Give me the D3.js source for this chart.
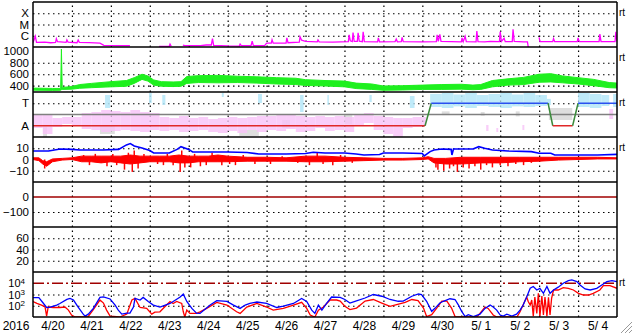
<!DOCTYPE html>
<html>
<head>
<meta charset="utf-8">
<script src="https://cdn.jsdelivr.net/npm/d3@7"></script>
<style>
body { margin: 0; background: #fff; }
svg { display: block; font-family: "Liberation Sans", Arial, sans-serif; }
text { white-space: pre; }
</style>
</head>
<body>
<div id="chart"></div>
<script>
// time axis: days since 2016-04-20 00UT
var dateLabels = ["4/20","4/21","4/22","4/23","4/24","4/25","4/26","4/27","4/28","4/29","4/30","5/ 1","5/ 2","5/ 3","5/ 4"];
var yearLabel = "2016";

// panel tick labels
var xrayTicks = [1e-4, 1e-5, 1e-6], xrayTickLabels = ["X", "M", "C"];
var speedTicks = [1000, 800, 600, 400], speedGrid = [800, 600, 400];
var phiTicks = [315, 135], phiTickLabels = ["T", "A"], phiGrid = [315];
var bTicks = [10, 0, -10], bGrid = [10, -10];
var dstTicks = [0, -100], dstGrid = [-100];
var kpTicks = [60, 40, 20];
var eTicks = [1e4, 1e3, 1e2], eGrid = [1e3, 1e2], eAlert = 1e4;

// x-ray flux [day, W/m2], null = gap
var xray = [[0,2.4e-7],[0.06,9e-7],[0.09,2.6e-7],[0.3,2.7e-7],[0.45,2.4e-7],[0.58,2.6e-7],[0.6,5.5e-7],[0.63,3e-7],
  [0.85,2.6e-7],[0.87,4.2e-7],[0.9,2.7e-7],[1.13,2.4e-7],[1.16,4.2e-7],[1.19,2.6e-7],[1.45,2.4e-7],[1.72,2.2e-7],
  [1.82,1.4e-7],[2.2,1.3e-7],[2.49,1.35e-7],null,
  [3.24,1.15e-7],[3.5,1.15e-7],[3.52,1.8e-7],[3.55,1.15e-7],null,
  [3.85,1.45e-7],[3.9,1.3e-7],[4.3,1.3e-7],[4.45,1.5e-7],[4.58,1.5e-7],[4.61,5.5e-7],[4.64,1.4e-7],[5.0,1.25e-7],
  [5.3,1.2e-7],[5.32,1.8e-7],[5.35,1.3e-7],[5.6,1.3e-7],[5.63,3.3e-7],[5.66,1.3e-7],[5.95,1.3e-7],[6.0,2.2e-7],
  [6.12,2.2e-7],[6.14,4.4e-7],[6.17,2.2e-7],[6.5,2.2e-7],[6.52,6.5e-7],[6.55,2.4e-7],[6.84,2.7e-7],[6.86,8e-7],
  [6.9,4e-7],[7.0,3.1e-7],[7.3,2.9e-7],[7.32,4.2e-7],[7.35,2.9e-7],[7.7,2.7e-7],[7.9,2.9e-7],[8.1,3.0e-7],
  [8.12,1.2e-6],[8.15,3.5e-7],[8.2,3.0e-7],[8.22,1.9e-6],[8.25,3.1e-7],[8.33,3.1e-7],[8.35,1.8e-6],[8.38,3.3e-7],
  [8.46,3.0e-7],[8.48,2.2e-6],[8.51,3.0e-7],[8.85,2.9e-7],[8.87,6.5e-7],[8.9,2.9e-7],[9.3,3.0e-7],[9.33,5e-7],
  [9.36,2.9e-7],[9.46,3.0e-7],[9.48,7e-7],[9.51,3.0e-7],[10.0,2.9e-7],[10.36,3.0e-7],[10.38,1.2e-6],[10.41,3.1e-7],
  [10.45,1.3e-6],[10.48,3.1e-7],[11.0,2.9e-7],[11.02,6.5e-7],[11.05,3.0e-7],[11.1,9e-7],[11.13,3.0e-7],[11.38,2.9e-7],
  [11.4,2.6e-6],[11.43,3.0e-7],[11.6,2.9e-7],[11.75,3.1e-7],[11.98,3.0e-7],[12.0,2.3e-6],[12.03,3.1e-7],[12.1,6e-7],
  [12.13,3.0e-7],[12.31,3.0e-7],[12.33,3.8e-6],[12.36,3.1e-7],[12.6,2.9e-7],[12.7,2.9e-7],[12.72,1.0e-7],null,
  [13.0,7e-7],[13.02,3.0e-7],[13.35,3.0e-7],[13.37,5.5e-7],[13.4,3.0e-7],[13.98,3.0e-7],[14.0,6.5e-7],[14.03,3.0e-7],
  [14.54,3.0e-7],[14.56,1.4e-6],[14.59,3.0e-7],[14.95,3.0e-7],[14.97,2.2e-6],[15.0,3.1e-7]];

// solar wind speed band [day, low, high] km/s
var speed = [[0,322,358],[0.5,318,352],[0.71,320,352],[0.73,330,1040],[0.75,335,370],[1.0,340,385],[1.2,355,420],
  [1.5,365,440],[2.0,380,470],[2.4,390,490],[2.6,440,540],[2.8,510,600],[2.95,480,570],[3.1,410,500],[3.3,390,470],
  [3.6,385,465],[3.8,390,470],[3.95,440,560],[4.25,455,575],[4.75,450,580],[5.25,455,565],[5.75,445,555],
  [6.25,430,540],[6.75,420,530],[7.0,405,505],[7.5,395,490],[8.0,380,480],[8.3,350,445],[8.7,335,430],[9.0,320,395],
  [9.5,325,400],[10.0,335,410],[10.5,335,420],[11.0,340,425],[11.3,330,410],[11.5,335,420],[11.8,380,490],
  [12.2,410,520],[12.6,420,545],[13.0,460,600],[13.3,465,610],[13.6,450,570],[14.0,430,540],[14.4,400,510],
  [14.8,365,455],[15.0,360,445]];

// IMF angle clouds [day from, day to, low deg, high deg]
var phiPink = [[0,0.25,117,221],[0.25,0.5,69,221],[0.5,0.75,125,197],[0.75,1,149,205],[1,1.25,141,205],[1.25,1.5,109,237],
  [1.5,1.75,101,245],[1.75,2,85,261],[2,2.25,93,253],[2.25,2.5,101,245],[2.5,2.75,93,261],[2.75,3,85,245],[3,3.25,101,237],
  [3.25,3.5,93,205],[3.5,3.75,101,197],[3.75,4,85,213],[4,4.25,93,197],[4.25,4.5,101,205],[4.5,4.75,85,189],
  [4.75,5,77,197],[5,5.25,93,205],[5.25,5.5,77,197],[5.5,5.75,101,205],[5.75,6,85,213],[6,6.25,101,213],
  [6.25,6.5,93,229],[6.5,6.75,109,221],[6.75,7,85,213],[7,7.25,93,205],[7.25,7.5,117,213],[7.5,7.75,93,205],
  [7.75,8,101,213],[8,8.25,85,205],[8.25,8.5,133,229],[8.5,8.75,157,237],[8.75,9,101,213],[9,9.25,69,205],
  [9.25,9.5,45,197],[9.5,9.75,117,197],[9.75,10,125,205],[10,10.1,133,205],
  [11.64,11.7,93,141],[11.9,11.95,85,117],[12.57,12.62,101,141],[14.8,14.9,189,269]];
var phiBlue = [[1.85,1.98,277,381],[2.98,3.05,317,397],[3.32,3.4,301,381],[4.85,4.9,365,397],[5.78,5.88,317,389],
  [6.86,6.95,245,381],[7.56,7.6,301,381],[8.64,8.7,325,381],[9.68,9.8,277,373],
  [10.2,10.5,285,390],[10.5,10.8,277,397],[10.8,11.1,290,385],[11.1,11.4,277,397],[11.4,11.7,293,381],
  [11.7,12.0,285,389],[12.0,12.3,277,397],[12.3,12.6,290,385],[12.6,12.9,285,397],[12.9,13.2,293,381],
  [13.2,13.3,301,350],[14.0,14.3,285,397],[14.3,14.6,277,389],[14.6,14.8,293,381],[14.9,15,285,389]];
var phiGray = [[0.26,0.36,45,125],[1.72,2.1,69,141],[5.3,5.8,53,101],[6.4,6.6,117,181],[8.0,8.2,150,230],
  [10.5,10.7,220,250],[11.5,11.6,215,245],[12.4,12.5,210,250],[13.25,13.85,181,277]];
var phiCenter = 225;
// sector polarity [day, deg]: 315 = toward, 135 = away
var sector = [[0,135],[10.07,135],[10.23,315],[13.23,315],[13.35,135],[13.86,135],[14.0,315],[15,315]];

// IMF |B| [day, nT]
var bt = [[0,7.6],[0.4,7.6],[0.7,9.3],[1.0,9],[1.2,8.4],[1.8,8.4],[2.2,9],[2.4,13],[2.5,14.2],[2.6,12],[2.8,10.2],
  [3.0,8],[3.1,5.8],[3.5,5.8],[3.7,9],[3.8,11.4],[4.0,9],[4.1,6.7],[5.0,6.7],[5.5,6.2],[5.8,4.9],[6.5,4.9],[7.0,5.3],
  [7.2,6.5],[7.5,5.8],[8.0,5.8],[8.3,4.9],[8.5,4.0],[8.9,4.5],[9.0,5.8],[9.5,5.8],[10.0,5.3],[10.05,3.1],[10.2,7],
  [10.3,8.4],[10.5,9.3],[10.74,9],[10.76,4],[10.8,9.3],[11.0,9.3],[11.3,9.3],[11.45,11.4],[11.6,10],[11.8,8.4],
  [12.2,7.6],[12.8,7],[13.0,5.5],[13.3,5.5],[13.4,4.0],[14.5,4.0],[15,4.6]];
// IMF Bz: dense band [day, low, high] and single spikes [day, nT]
var bzBand = [[0,0,1.5],[0.15,-1,1.5],[0.25,-4,-1],[0.35,-6,-2],[0.5,-2,0.5],[0.75,-0.5,1],[1.0,0,1.5],[1.25,-2,3],
  [1.5,-2,3],[1.75,-3,3],[2.0,-2,3],[2.25,-3,3],[2.5,-4,4],[2.75,-3,3],[3.0,-2,3],[3.25,-2,3],[3.5,-2,3],[3.75,-3,4],
  [4.0,-3,3],[4.25,-2,3],[4.5,-2,3],[4.75,-2,4],[5.0,-2,3],[5.5,-1.5,2],[6.0,-1.5,2],[6.5,-1.5,1.5],[7.0,-2,3],
  [7.5,-2,3],[8.0,-1.5,2],[8.5,-1,1.5],[9.0,-0.5,1],[9.5,-0.5,1],[10.0,0,1.5],[10.15,0.5,2.5],[10.3,-3,1],[10.6,-4,1],
  [11.0,-4,2],[11.5,-3,2],[12.0,-3,2],[12.5,-2,2],[13.0,-1.5,2],[13.5,-0.5,2],[14.0,0,2],[14.5,0.5,2],[15,0.5,1.5]];
var bzSpikes = [[0.3,-8],[1.3,4],[1.45,-5],[1.6,5],[1.9,-6],[2.05,5],[2.15,-5],[2.35,-9],[2.45,6],[2.55,-11],[2.6,8],
  [2.7,-8],[2.85,5],[3.2,-4],[3.35,-5],[3.45,5],[3.6,-5],[3.78,-11],[3.82,8],[3.9,-7],[4.05,-7],[4.15,5],[4.3,-6],
  [4.45,-5],[4.6,6],[4.85,-5],[5.05,-4],[5.2,-5],[5.4,4],[5.7,-4],[6.1,-4],[6.4,3],[6.8,-3],[7.1,-5],[7.3,6],[7.45,-4],
  [7.7,-5],[7.9,4],[8.2,-3],[10.35,-7],[10.4,-9],[10.55,-10],[10.7,-8],[10.8,-6],[10.9,-11],[11.05,-7],[11.2,-8],
  [11.35,-6],[11.5,-9],[11.65,-5],[11.8,-7],[12.0,-5],[12.2,-6],[12.4,-4],[12.6,-5],[12.8,-3]];

var dstLevel = 0;

// electron flux [day, pfu]
var eBlue = [[0,520],[0.15,520],[0.24,214],[0.35,70],[0.44,77],[0.61,115],[0.69,160],[0.87,370],[0.95,450],[1.04,323],
  [1.16,77],[1.29,18],[1.34,12],[1.42,18],[1.55,58],[1.72,550],[1.81,620],[1.98,400],[2.11,115],[2.19,41],[2.28,18],
  [2.41,22],[2.49,22],[2.58,77],[2.62,450],[2.75,323],[2.83,550],[2.96,240],[3.09,115],[3.26,77],[3.52,160],[3.78,600],
  [3.86,1110],[3.95,240],[4.08,58],[4.2,22],[4.29,21],[4.37,36],[4.55,115],[4.72,280],[4.98,240],[5.15,115],[5.32,58],
  [5.45,115],[5.57,160],[5.75,214],[6.0,160],[6.26,70],[6.43,94],[6.69,160],[6.9,450],[7.03,240],[7.16,41],[7.24,21],
  [7.33,115],[7.42,41],[7.54,160],[7.67,600],[7.89,550],[8.01,360],[8.14,174],[8.27,250],[8.53,487],[8.74,1000],
  [8.96,700],[9.17,360],[9.38,250],[9.51,263],[9.73,700],[9.9,1110],[9.98,1000],[10.11,250],[10.24,32],[10.33,62],
  [10.45,174],[10.54,250],[10.71,420],[10.84,360],[10.92,128],[11.01,32],[11.1,11],[11.18,16],[11.31,11],[11.48,18],
  [11.61,58],[11.74,115],[11.82,77],[11.91,41],[12.0,15],[12.08,12],[12.17,18],[12.3,12],[12.42,18],[12.51,41],
  [12.59,115],[12.68,600],[12.77,3550],[12.85,5200],[12.94,2520],[13.02,3550],[13.11,1280],[13.2,5200],[13.28,1280],
  [13.37,2520],[13.49,4500],[13.62,10000],[13.75,17000],[13.84,19700],[13.97,14000],[14.05,7050],[14.18,3100],
  [14.31,2520],[14.48,3550],[14.61,7050],[14.74,14000],[14.87,17000],[15,14000]];
var eRed = [[0,240],[0.1,160],[0.22,115],[0.31,77],[0.35,12],[0.39,77],[0.52,70],[0.69,70],[0.82,77],[0.91,41],[0.99,15],
  [1.08,10],[1.41,10],[1.54,41],[1.72,323],[1.81,174],[1.89,41],[1.98,12],[2.23,10],[2.41,18],[2.54,323],[2.62,450],
  [2.75,70],[2.92,58],[3.05,18],[3.13,27],[3.26,29],[3.43,115],[3.52,240],[3.6,160],[3.69,240],[3.82,160],[3.86,29],
  [3.9,10],[3.95,41],[4.03,21],[4.2,21],[4.29,29],[4.46,58],[4.72,200],[4.98,115],[5.23,29],[5.32,21],[5.49,77],
  [5.75,160],[6.0,77],[6.17,41],[6.43,58],[6.69,115],[6.9,200],[7.03,58],[7.12,15],[7.24,10],[7.33,41],[7.46,77],
  [7.63,323],[7.8,323],[7.89,260],[8.01,90],[8.14,45],[8.31,62],[8.53,260],[8.74,360],[8.96,174],[9.17,90],[9.34,128],
  [9.56,200],[9.73,360],[9.89,290],[10.03,62],[10.11,11],[10.24,16],[10.37,62],[10.5,260],[10.63,260],[10.75,62],
  [10.84,11],[10.97,10],[11.4,10],[11.48,21],[11.61,77],[11.69,58],[11.82,15],[11.91,10],[12.43,10],[12.51,29],
  [12.68,600],[12.72,240],[12.77,115],[12.81,323],[12.85,12],[12.89,600],[12.94,21],[12.98,1280],[13.02,12],[13.07,735],
  [13.11,15],[13.15,600],[13.2,12],[13.24,550],[13.28,15],[13.32,450],[13.37,2520],[13.49,2520],[13.62,4100],
  [13.75,3550],[13.88,2520],[14.01,1280],[14.14,900],[14.27,900],[14.39,1280],[14.56,2520],[14.65,6200],[14.82,6200],
  [15,3550]];

// ---------------- layout ----------------
var svgWidth = 633, svgHeight = 334;
var plotLeft = 33, plotRight = 617, plotTop = 2, panelH = 45, nPanels = 7;
var plotBottom = plotTop + nPanels * panelH;
function pTop(i) { return plotTop + i * panelH; }

var svg = d3.select("#chart").append("svg")
  .attr("width", svgWidth).attr("height", svgHeight);

var x = d3.scaleLinear().domain([0, 15]).range([plotLeft, plotRight]);

var yX = d3.scaleLog().domain([1e-7, 1e-3]).range([pTop(1), pTop(0)]).clamp(true);
var ySpeed = d3.scaleLinear().domain([290, 1075]).range([pTop(2), pTop(1)]);
var yPhi = d3.scaleLinear().domain([45, 405]).range([pTop(3), pTop(2)]).clamp(true);
var yB = d3.scaleLinear().domain([-20, 20]).range([pTop(4), pTop(3)]).clamp(true);
var yDst = d3.scaleLinear().domain([-200, 100]).range([pTop(5), pTop(4)]);
var yKp = d3.scaleLinear().domain([0, 80]).range([pTop(6), pTop(5)]);
var yE = d3.scaleLog().domain([10, 1e5]).range([pTop(7), pTop(6)]).clamp(true);

// clip per panel
var defs = svg.append("defs");
d3.range(nPanels).forEach(i => {
  defs.append("clipPath").attr("id", "clip" + i)
    .append("rect").attr("x", plotLeft).attr("y", pTop(i)).attr("width", plotRight - plotLeft).attr("height", panelH);
});
function panel(i) { return svg.append("g").attr("clip-path", "url(#clip" + i + ")"); }

// ---------------- grid ----------------
var gridW = plotRight - plotLeft;
function hGrid(scale, values) {
  var g = svg.append("g").attr("transform", `translate(${plotLeft},0)`)
    .call(d3.axisLeft(scale).tickValues(values).tickSize(-gridW).tickFormat(""));
  g.select(".domain").remove();
  g.selectAll("line").attr("stroke", "#000").attr("stroke-dasharray", "1.5,3.5").attr("stroke-width", 1.2);
}
hGrid(yX, xrayTicks);
hGrid(ySpeed, speedGrid);
hGrid(yPhi, phiGrid);
hGrid(yB, bGrid);
hGrid(yDst, dstGrid);
hGrid(yKp, kpTicks);
hGrid(yE, eGrid);

var vg = svg.append("g").attr("transform", `translate(0,${plotBottom})`)
  .call(d3.axisBottom(x).tickValues(d3.range(1, 15)).tickSize(-(plotBottom - plotTop)).tickFormat(""));
vg.select(".domain").remove();
vg.selectAll("line").attr("stroke", "#000").attr("stroke-dasharray", "1.5,3.5").attr("stroke-width", 1.2);

// ---------------- data ----------------
// x-ray
panel(0).append("path").datum(xray)
  .attr("fill", "none").attr("stroke", "#ff00ff").attr("stroke-width", 1.3)
  .attr("d", d3.line().defined(d => d).x(d => x(d[0])).y(d => yX(d[1])));

// speed
panel(1).append("path").datum(speed)
  .attr("fill", "#1ef01e").attr("stroke", "#1ef01e").attr("stroke-width", 1)
  .attr("d", d3.area().x(d => x(d[0])).y0(d => ySpeed(d[1])).y1(d => ySpeed(d[2])));

// IMF angle
var gP = panel(2);
function cloud(data, color, op) {
  gP.append("g").selectAll("rect").data(data).enter().append("rect")
    .attr("x", d => x(d[0])).attr("width", d => x(d[1]) - x(d[0]))
    .attr("y", d => yPhi(d[3])).attr("height", d => yPhi(d[2]) - yPhi(d[3]))
    .attr("fill", color).attr("opacity", op);
}
cloud(phiGray, "#d8d8d8", 0.85);
cloud(phiPink, "#f8c2f8", 0.8);
cloud(phiBlue, "#b4e6f8", 0.85);
gP.append("line").attr("x1", plotLeft).attr("x2", plotRight)
  .attr("y1", yPhi(phiCenter)).attr("y2", yPhi(phiCenter))
  .attr("stroke", "#808080").attr("stroke-width", 1.5);
gP.selectAll(".seg").data(d3.pairs(sector)).enter().append("line")
  .attr("x1", d => x(d[0][0])).attr("y1", d => yPhi(d[0][1]))
  .attr("x2", d => x(d[1][0])).attr("y2", d => yPhi(d[1][1]))
  .attr("stroke", d => d[0][1] !== d[1][1] ? "#3a8a3a" : (d[0][1] > 200 ? "#2a50f0" : "#e02828"))
  .attr("stroke-width", 1.5);

// IMF B
var gB = panel(3);
gB.append("path").datum(bzBand)
  .attr("fill", "#ff0000").attr("stroke", "#ff0000").attr("stroke-width", 1)
  .attr("d", d3.area().x(d => x(d[0])).y0(d => yB(d[1])).y1(d => yB(d[2])));
gB.selectAll(".spike").data(bzSpikes).enter().append("line")
  .attr("x1", d => x(d[0])).attr("x2", d => x(d[0]))
  .attr("y1", yB(0)).attr("y2", d => yB(d[1]))
  .attr("stroke", "#ff0000").attr("stroke-width", 1.5);
gB.append("path").datum(bt)
  .attr("fill", "none").attr("stroke", "#0000ff").attr("stroke-width", 1.6)
  .attr("d", d3.line().x(d => x(d[0])).y(d => yB(d[1])));

// Dst
panel(4).append("line").attr("x1", plotLeft).attr("x2", plotRight)
  .attr("y1", yDst(dstLevel)).attr("y2", yDst(dstLevel))
  .attr("stroke", "#a00000").attr("stroke-width", 1.5);

// electrons
var gE = panel(6);
gE.append("line").attr("x1", plotLeft).attr("x2", plotRight)
  .attr("y1", yE(eAlert)).attr("y2", yE(eAlert))
  .attr("stroke", "#a00000").attr("stroke-width", 1.3).attr("stroke-dasharray", "11,3,2,3");
var eLine = d3.line().x(d => x(d[0])).y(d => yE(d[1]));
gE.append("path").datum(eRed).attr("fill", "none").attr("stroke", "#ff0000").attr("stroke-width", 1.3).attr("d", eLine);
gE.append("path").datum(eBlue).attr("fill", "none").attr("stroke", "#0000ff").attr("stroke-width", 1.3).attr("d", eLine);

// ---------------- frame ----------------
var frame = svg.append("g").attr("stroke", "#000").attr("stroke-width", 1.5);
d3.range(nPanels + 1).forEach(i => {
  frame.append("line").attr("x1", plotLeft).attr("x2", plotRight).attr("y1", pTop(i)).attr("y2", pTop(i));
});
frame.append("line").attr("x1", plotLeft).attr("x2", plotLeft).attr("y1", plotTop).attr("y2", plotBottom);
frame.append("line").attr("x1", plotRight).attr("x2", plotRight).attr("y1", plotTop).attr("y2", plotBottom);

// ---------------- labels ----------------
function leftLabels(scale, values, fmt) {
  var g = svg.append("g").attr("transform", `translate(${plotLeft},0)`)
    .call(d3.axisLeft(scale).tickValues(values).tickSize(0).tickPadding(4).tickFormat(fmt));
  g.select(".domain").remove();
  g.selectAll("text").attr("font-size", 11.5).attr("font-family", "Liberation Sans, Arial, sans-serif").attr("fill", "#000");
  return g;
}
leftLabels(yX, xrayTicks, (d, i) => xrayTickLabels[i]);
leftLabels(ySpeed, speedTicks, d3.format("d"));
leftLabels(yPhi, phiTicks, (d, i) => phiTickLabels[i]);
leftLabels(yB, bTicks, d3.format("d"));
leftLabels(yDst, dstTicks, d3.format("d"));
leftLabels(yKp, kpTicks, d3.format("d"));
var eg = leftLabels(yE, eTicks, d => "10");
eg.selectAll("text").attr("dx", -4).attr("font-size", 11).each(function (d) {
  d3.select(this).append("tspan").attr("dy", "-0.45em").attr("font-size", 8).text(Math.round(Math.log10(d)));
});

var xg = svg.append("g").attr("transform", `translate(0,${plotBottom})`)
  .call(d3.axisBottom(x).tickValues(d3.range(0.5, 15, 1)).tickSize(0).tickPadding(4).tickFormat((d, i) => dateLabels[i]));
xg.select(".domain").remove();
xg.selectAll("text").attr("font-size", 12).attr("font-family", "Liberation Sans, Arial, sans-serif").attr("fill", "#000");
svg.append("text").attr("x", 16).attr("y", plotBottom + 4).attr("dy", "0.71em")
  .attr("text-anchor", "middle").attr("font-size", 12).text(yearLabel);

// realtime markers on the right
[0, 1, 2, 3, 6].forEach(i => {
  svg.append("text").attr("x", 619).attr("y", pTop(i) + 14)
    .attr("font-size", 10).text("rt");
});

// window grip
[4, 8, 12].forEach(k => {
  svg.append("line").attr("x1", svgWidth - k).attr("y1", svgHeight - 1).attr("x2", svgWidth - 1).attr("y2", svgHeight - k)
    .attr("stroke", "#999").attr("stroke-width", 1);
});
</script>
</body>
</html>
